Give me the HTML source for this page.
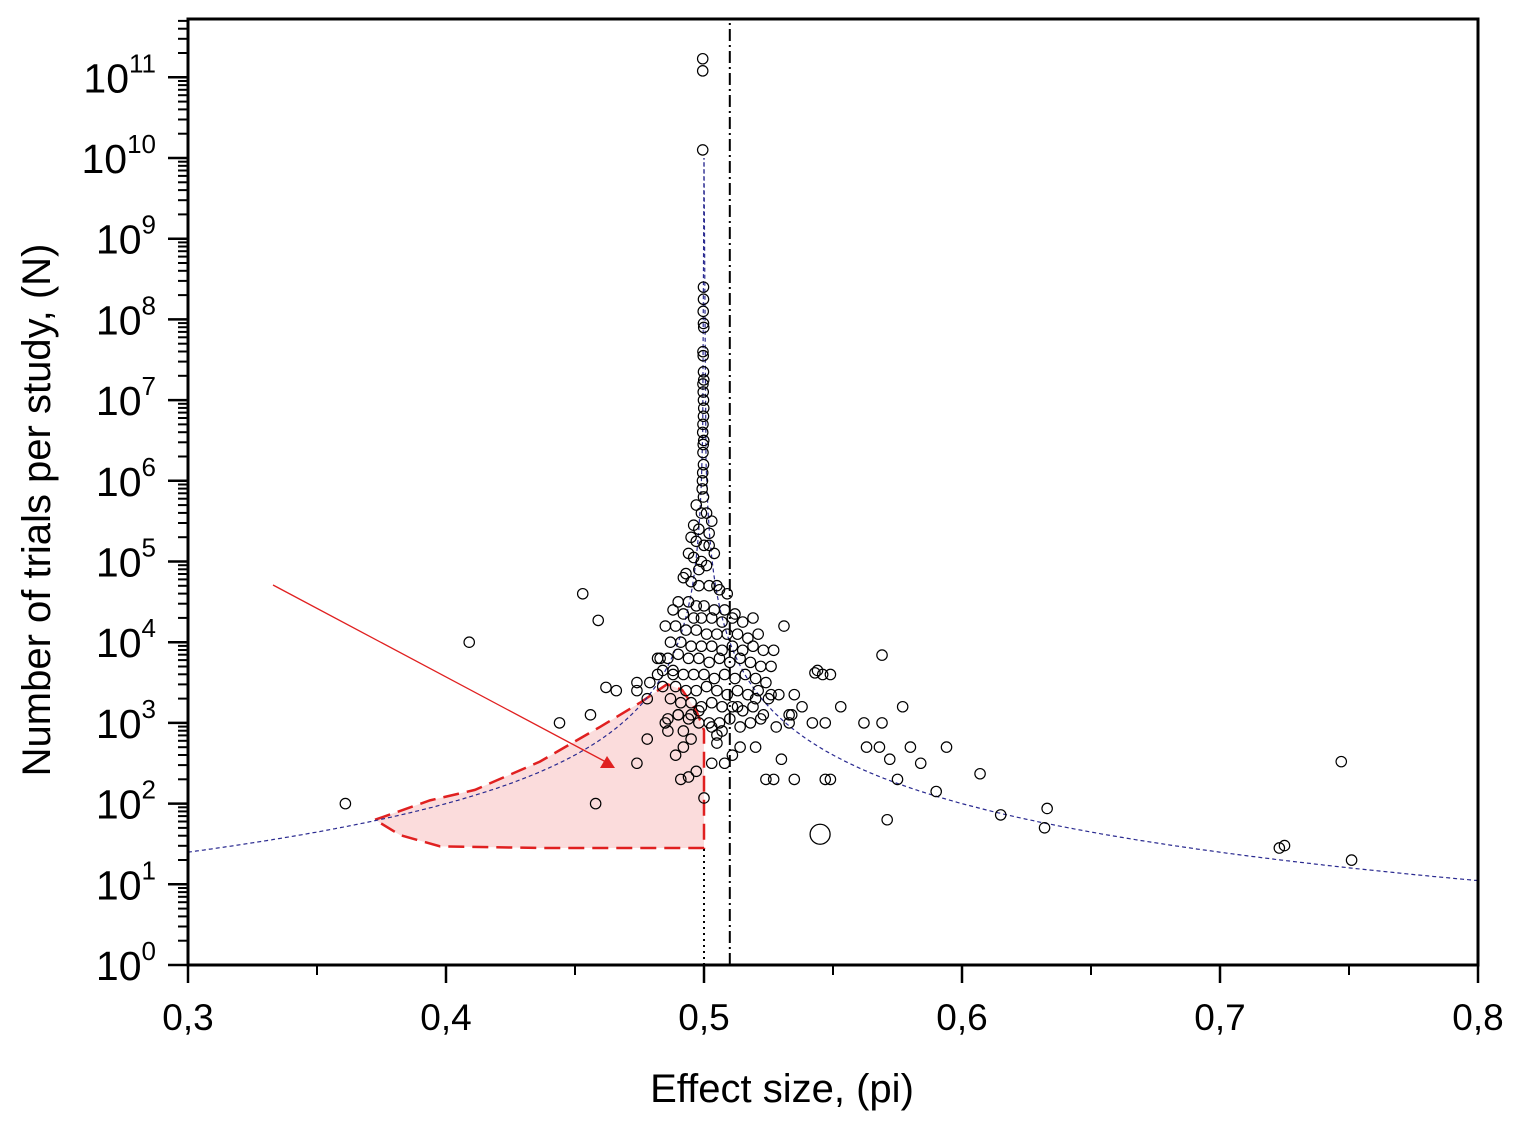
<!DOCTYPE html>
<html><head><meta charset="utf-8"><style>
html,body{margin:0;padding:0;background:#fff;}
svg{display:block;font-family:"Liberation Sans",Arial,sans-serif;}
</style></head><body>
<svg id="chart" width="1514" height="1125" viewBox="0 0 1514 1125" xmlns="http://www.w3.org/2000/svg">
<defs><clipPath id="clip"><rect x="188" y="19" width="1290" height="946"/></clipPath></defs>
<g id="plot" clip-path="url(#clip)"></g>
<g id="axes"></g>
</svg>
<script>
const xTicks=[0.3,0.4,0.5,0.6,0.7,0.8];
const xTickLabels=["0,3","0,4","0,5","0,6","0,7","0,8"];
const yTicks=[0,1,2,3,4,5,6,7,8,9,10,11];
const effectX=[0.361,0.409,0.453,0.459,0.444,0.456,0.458,0.462,0.466,0.474,0.474,0.474,0.483,0.491,0.494,0.490,0.500,
0.531,0.553,0.562,0.563,0.568,0.569,0.572,0.575,0.569,0.577,0.580,0.584,0.590,0.594,0.571,0.607,0.615,0.632,0.633,0.723,0.725,0.747,0.751,
0.549,0.543,0.533,0.535,0.534,0.526,0.533,0.523,0.547,0.549,0.547,0.544,0.546,0.542,0.538,0.535,
0.4995,0.4995,0.4995,0.4998,0.4998,0.4997,0.4998,0.4999,0.4996,0.4997,0.4998,0.4999,0.4996,0.4997,0.4998,0.4999,0.4998,0.4996,0.4995,0.4999,0.4997,0.4996,0.4998,0.4995,0.4994,0.4993,0.4998,
0.497,0.499,0.501,0.503,0.496,0.498,0.502,0.495,0.497,0.500,0.502,0.504,0.494,0.496,0.499,0.501,0.498,0.493,0.505,
0.492,0.495,0.498,0.502,0.506,0.509,0.490,0.494,0.497,0.500,0.504,0.508,0.512,0.488,0.492,0.496,0.499,0.503,0.507,0.511,0.515,0.519,
0.485,0.489,0.493,0.497,0.501,0.505,0.509,0.513,0.517,0.521,0.487,0.491,0.495,0.499,0.503,0.507,0.511,0.515,0.519,0.523,0.527,
0.482,0.486,0.490,0.494,0.498,0.502,0.506,0.510,0.514,0.518,0.522,0.526,0.484,0.488,0.492,0.496,0.500,0.504,0.508,0.512,0.516,0.520,0.524,
0.479,0.484,0.489,0.493,0.497,0.501,0.505,0.509,0.513,0.517,0.521,0.525,0.529,0.487,0.491,0.495,0.499,0.503,0.507,0.511,0.515,0.519,
0.478,0.482,0.486,0.490,0.494,0.498,0.502,0.506,0.510,0.514,0.518,0.522,0.528,0.485,0.488,0.492,0.495,0.498,0.503,0.508,0.513,0.520,
0.478,0.486,0.489,0.492,0.495,0.497,0.503,0.505,0.507,0.511,0.514,0.520,0.524,0.527,0.530,0.505,0.509,0.516,0.522];
const logN=[2.0,4.0,4.6,4.27,3.0,3.1,2.0,3.44,3.4,2.5,3.5,3.4,3.8,2.3,2.33,3.1,2.07,
4.2,3.2,3.0,2.7,2.7,3.0,2.55,2.3,3.84,3.2,2.7,2.5,2.15,2.7,1.8,2.37,1.86,1.7,1.94,1.45,1.48,2.52,1.3,
3.6,3.62,3.0,2.3,3.1,3.35,3.1,3.1,3.0,2.3,2.3,3.65,3.6,3.0,3.2,3.35,
11.23,11.08,10.1,8.4,8.25,8.1,7.95,7.9,7.6,7.55,7.35,7.25,7.2,7.1,7.0,6.9,6.8,6.7,6.6,6.5,6.45,6.35,6.2,6.1,6.0,5.9,5.8,
5.7,5.6,5.6,5.5,5.45,5.4,5.35,5.3,5.25,5.2,5.2,5.1,5.1,5.05,5.0,4.95,4.9,4.85,4.7,
4.8,4.75,4.7,4.7,4.65,4.6,4.5,4.5,4.45,4.45,4.4,4.4,4.35,4.4,4.35,4.3,4.3,4.3,4.25,4.3,4.25,4.3,
4.2,4.2,4.15,4.15,4.1,4.1,4.1,4.1,4.05,4.1,4.0,4.0,3.95,3.95,3.95,3.9,3.95,3.9,3.95,3.9,3.9,
3.8,3.8,3.85,3.8,3.8,3.75,3.8,3.75,3.8,3.75,3.7,3.7,3.65,3.65,3.6,3.6,3.6,3.55,3.6,3.55,3.6,3.55,3.5,
3.5,3.45,3.45,3.4,3.4,3.45,3.4,3.35,3.4,3.35,3.4,3.3,3.35,3.3,3.25,3.25,3.2,3.25,3.2,3.2,3.15,3.2,
3.3,3.6,3.05,3.1,3.05,3.0,3.0,3.0,3.05,2.95,3.0,3.05,2.95,3.0,3.6,2.9,3.1,3.15,2.95,
2.5,3.2,2.7,2.8,2.9,2.6,2.7,2.8,2.4,2.5,2.75,2.9,2.6,2.7,3.3,2.3,2.3,2.55,2.85];
const bigX=[0.545];const bigLogN=[1.62];
const regionX=[0.3725,0.3938,0.4112,0.4364,0.4597,0.4752,0.4857,0.4915,0.4969,0.5,0.5,0.4364,0.3977,0.3822];
const regionLogN=[1.80,2.04,2.17,2.52,2.95,3.25,3.48,3.41,3.16,2.91,1.45,1.45,1.47,1.61];

const X0=188,X1=1478,YB=965,YT=19,DEC=80.7;
const sx=v=>X0+(v-0.3)/0.5*(X1-X0);
const sy=l=>YB-l*DEC;
const NS="http://www.w3.org/2000/svg";
function mk(tag,attrs,parent){const e=document.createElementNS(NS,tag);for(const k in attrs)e.setAttribute(k,attrs[k]);parent.appendChild(e);return e;}
const plot=document.getElementById('plot'),axes=document.getElementById('axes');

let pts=regionX.map((x,i)=>sx(x)+','+sy(regionLogN[i])).join(' ');
let reg=mk('polygon',{points:pts,fill:'#fbdcdc',stroke:'#e02020','stroke-width':2.5,'stroke-dasharray':'16,8'},plot);



let dL='',dR='';
for(let i=0;i<=400;i++){const x=0.3+0.19999*i/400;const l=-2*Math.log10(0.5-x);dL+=(i?'L':'M')+sx(x).toFixed(1)+','+sy(l).toFixed(1);}
for(let i=0;i<=400;i++){const x=0.8-0.29999*i/400;const l=-2*Math.log10(x-0.5);dR+=(i?'L':'M')+sx(x).toFixed(1)+','+sy(l).toFixed(1);}
let cl=mk('path',{d:dL,fill:'none',stroke:'#2a2a90','stroke-width':1.2,'stroke-dasharray':'4,3'},plot);


let cr=mk('path',{d:dR,fill:'none',stroke:'#2a2a90','stroke-width':1.2,'stroke-dasharray':'4,3'},plot);



let l1=mk('line',{x1:sx(0.5),x2:sx(0.5),y1:YB,y2:sy(1.45),stroke:'#000','stroke-width':2,'stroke-dasharray':'2,4'},plot);


let l2=mk('line',{x1:sx(0.51),x2:sx(0.51),y1:YB,y2:YT,stroke:'#000','stroke-width':2,'stroke-dasharray':'12,4,2,4'},plot);



effectX.forEach((x,i)=>{const c=mk('circle',{cx:sx(x),cy:sy(logN[i]),r:5.2,fill:'none',stroke:'#000','stroke-width':1.2},plot);

});
bigX.forEach((x,i)=>{const c=mk('circle',{cx:sx(x),cy:sy(bigLogN[i]),r:10,fill:'none',stroke:'#000','stroke-width':1.3},plot);

});

let ar=mk('line',{x1:273,y1:585,x2:606,y2:762,stroke:'#e02020','stroke-width':1.3},axes);


let ah=mk('polygon',{points:'615,768 600,768 607,756',fill:'#e02020'},axes);



let fr=mk('rect',{x:X0,y:YT,width:X1-X0,height:YB-YT,fill:'none',stroke:'#000','stroke-width':3},axes);



xTicks.forEach((v,i)=>{const x=sx(v);
const t=mk('line',{x1:x,x2:x,y1:YB,y2:YB+18,stroke:'#000','stroke-width':2.5},axes);


const tx=mk('text',{x:x,y:YB+65,'font-size':37,'text-anchor':'middle',fill:'#000'},axes);tx.textContent=xTickLabels[i];


if(i<xTicks.length-1){const m=sx(v+0.05);const mt=mk('line',{x1:m,x2:m,y1:YB,y2:YB+10,stroke:'#000','stroke-width':2},axes);

}
});
yTicks.forEach(v=>{const y=sy(v);
const t=mk('line',{x1:X0-20,x2:X0,y1:y,y2:y,stroke:'#000','stroke-width':2.5},axes);


for(let k=2;k<=9;k++){const yy=sy(v+Math.log10(k));if(yy<YT)continue;
const m=mk('line',{x1:X0-10,x2:X0,y1:yy,y2:yy,stroke:'#000','stroke-width':2},axes);

}
const tx=mk('text',{x:X0-32,y:y+15,'font-size':41,'text-anchor':'end',fill:'#000'},axes);


const b=document.createElementNS(NS,'tspan');b.textContent='10';tx.appendChild(b);
const s=document.createElementNS(NS,'tspan');s.setAttribute('dy','-20');s.setAttribute('font-size','26');s.textContent=String(v);tx.appendChild(s);
});
let xt=mk('text',{x:782,y:1102,'font-size':40,'text-anchor':'middle',fill:'#000'},axes);xt.textContent='Effect size, (pi)';


let yt=mk('text',{x:0,y:0,'font-size':40,'text-anchor':'middle',fill:'#000',transform:'translate(50,510) rotate(-90)'},axes);yt.textContent='Number of trials per study, (N)';


</script>
</body></html>
